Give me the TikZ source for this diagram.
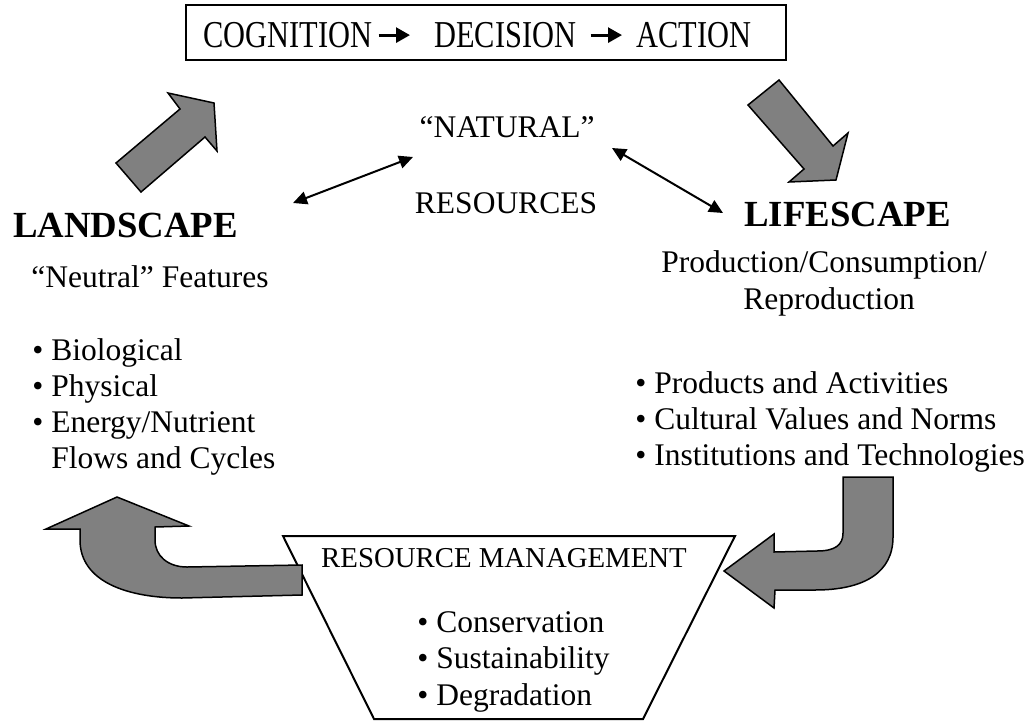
\documentclass[tikz,border=0pt]{standalone}
\usepackage{fontspec}
\setmainfont{Liberation Serif}
\newfontfamily\flowfont[FakeStretch=0.8]{Liberation Serif}
\usepackage{tikz}
\usetikzlibrary{arrows.meta}
\definecolor{BlockGray}{HTML}{808080}

\begin{document}
\begin{tikzpicture}[x=0.5pt,y=-0.5pt,
  body/.style={inner sep=0pt,font=\fontsize{15.75}{18}\selectfont},
  bighead/.style={inner sep=0pt,font=\fontsize{18.4}{21}\selectfont\bfseries},
  flowword/.style={inner sep=0pt,font=\fontsize{19}{22}\flowfont},
  mgmt/.style={inner sep=0pt,font=\fontsize{14.4}{17}\selectfont},
  blockarrow/.style={fill=BlockGray,draw=black,line width=0.75pt,line join=miter},
  nextarrow/.style={-{Triangle[length=7pt,width=7.5pt]},line width=1.4pt},
  link/.style={{Triangle[length=7pt,width=6.5pt]}-{Triangle[length=7pt,width=6.5pt]},line width=1pt}]
\path[use as bounding box] (0,0) rectangle (1036,722);
% top box
\node[draw,line width=1pt,minimum width=300pt,minimum height=27.5pt,inner sep=0pt] (topbox) at (486,32.5) {};
\node[flowword,anchor=base west] (cog) at (203,47.5) {COGNITION};
\node[flowword,anchor=base west] (dec) at (434,47.5) {DECISION};
\node[flowword,anchor=base west] (act) at (636,47.5) {ACTION};
\draw[nextarrow,shorten <=3pt,shorten >=12pt] (cog.east) -- (dec.west);
\draw[nextarrow,shorten <=7pt,shorten >=7pt] (dec.east) -- (act.west);
% centre
\node[body,anchor=base] (natural) at (507,137) {``NATURAL''};
\node[body,anchor=base] (resources) at (506,213) {RESOURCES};
\coordinate (natL) at (413,157);
\coordinate (natR) at (612,148);
\coordinate (landEnd) at (293,203);
\coordinate (lifeEnd) at (723,213);
\draw[link] (landEnd) -- (natL);
\draw[link] (natR) -- (lifeEnd);
% landscape
\node[bighead,anchor=base] (land) at (125.5,237) {LANDSCAPE};
\node[body,anchor=base] (neutral) at (150,287) {``Neutral'' Features};
\node[body,anchor=base west] (bio) at (32,360) {• Biological};
\node[body,anchor=base west] (phys) at (32,396) {• Physical};
\node[body,anchor=base west] (energy) at (32,432) {• Energy/Nutrient};
\node[body,anchor=base west] (flows) at (32,468) {\hphantom{• }Flows and Cycles};
% lifescape
\node[bighead,anchor=base] (life) at (847.5,226) {LIFESCAPE};
\node[body,anchor=base] (prod) at (824,272) {Production/Consumption/};
\node[body,anchor=base] (repro) at (829,309) {Reproduction};
\node[body,anchor=base west] (products) at (635,393) {• Products and Activities};
\node[body,anchor=base west] (cultural) at (635,429) {• Cultural Values and Norms};
\node[body,anchor=base west] (instit) at (635,465) {• Institutions and Technologies};
% resource management
\draw[line width=1pt,line join=miter] (283,536) -- (735,536) -- (643,719) -- (374,719) -- cycle;
\node[mgmt,anchor=base] (mgmttitle) at (504,567) {RESOURCE MANAGEMENT};
\node[body,anchor=base west] (cons) at (417,632) {• Conservation};
\node[body,anchor=base west] (sust) at (417,668) {• Sustainability};
\node[body,anchor=base west] (degr) at (417,705) {• Degradation};
% block arrows
\draw[blockarrow] (116,163) -- (180,109) -- (168,93) -- (214,103) -- (217,151) -- (205,137) -- (141,192) -- cycle;
\draw[blockarrow] (748,105) -- (779,80) -- (833,146) -- (848,133) -- (836,180) -- (789,182) -- (804,169) -- cycle;
\draw[blockarrow] (117,497) -- (189,526) -- (155,527) -- (155,540)
  .. controls (155,556) and (168,567) .. (187,567) -- (302,565) -- (302,595) -- (182,598)
  .. controls (128,598) and (80,582) .. (80,540) -- (80,529) -- (46,529) -- cycle;
\draw[blockarrow] (843,477) -- (893,477) -- (893,537)
  .. controls (893,572) and (865,590) .. (815,590) -- (775,590) -- (774,608) -- (724,571) -- (774,534) -- (774,552) -- (817,551)
  .. controls (835,551) and (843,545) .. (843,533) -- cycle;
\end{tikzpicture}
\end{document}
